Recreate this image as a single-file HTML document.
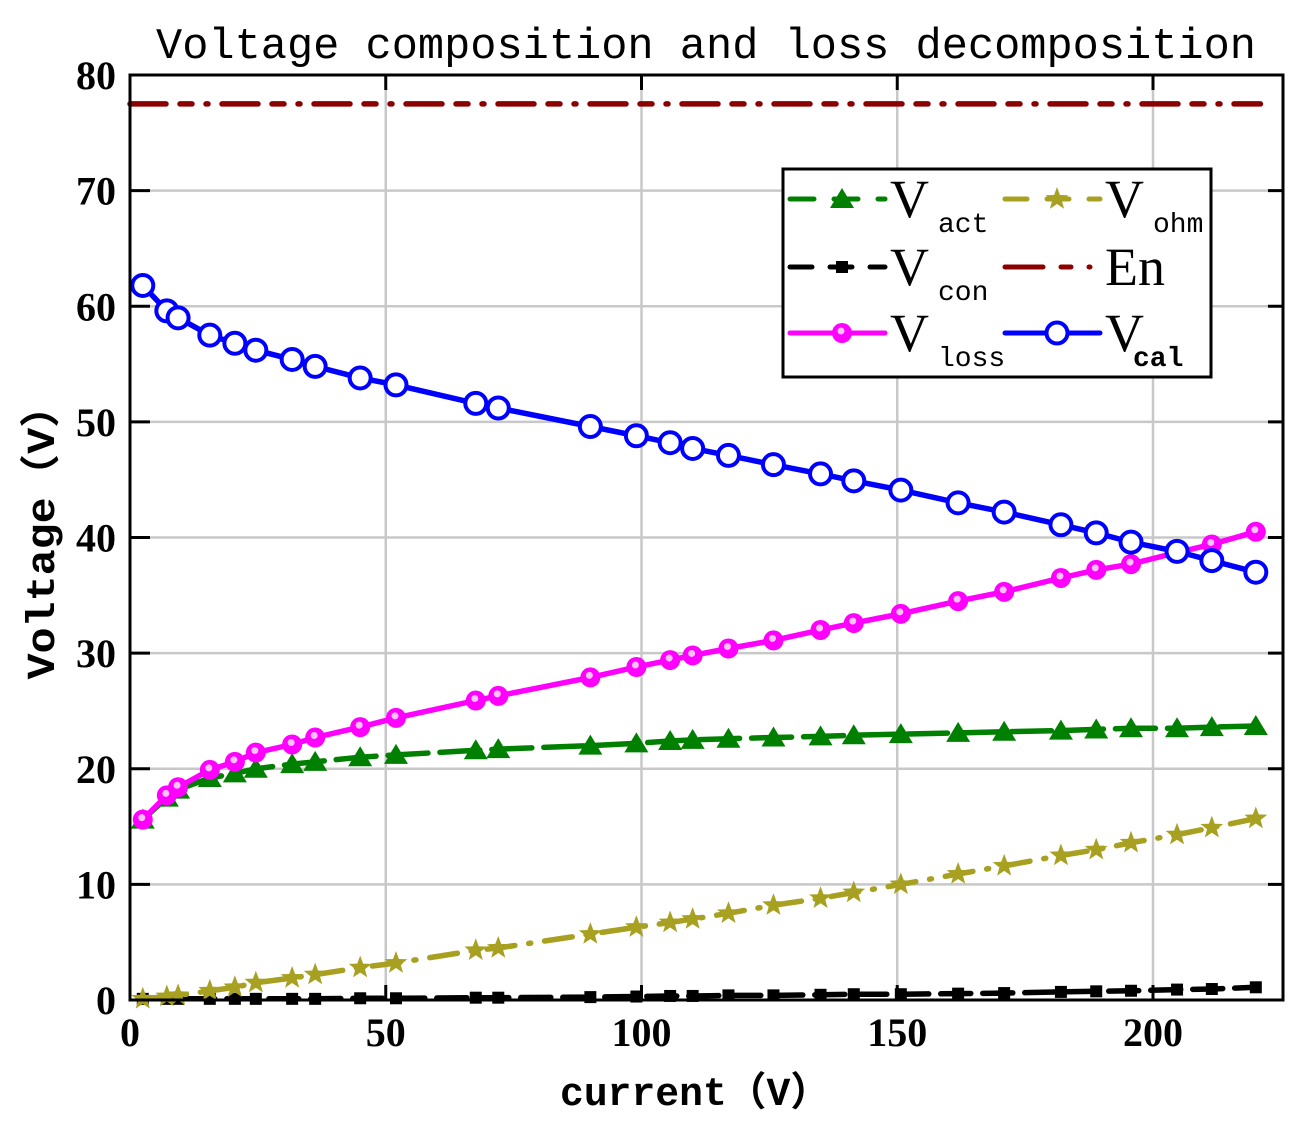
<!DOCTYPE html>
<html><head><meta charset="utf-8"><style>
body{margin:0;background:#fff;}
svg text{font-family:"Liberation Serif","Noto Serif CJK SC",serif;}
.mono{font-family:"Liberation Mono","Noto Sans CJK SC",monospace;}
</style></head><body>
<svg id="chart" width="1306" height="1131" xmlns="http://www.w3.org/2000/svg">
<text class="mono" x="706" y="58" text-anchor="middle" font-size="44" textLength="1100" lengthAdjust="spacingAndGlyphs">Voltage composition and loss decomposition</text>
<g id="grid"></g>
<g id="series"></g>
<rect x="130" y="75" width="1153" height="925" fill="none" stroke="#000" stroke-width="3"/>
<g id="ticks"></g>
<text class="mono" transform="translate(54,532) rotate(-90)" text-anchor="middle" font-size="40" font-weight="bold" textLength="295" lengthAdjust="spacingAndGlyphs">Voltage（V）</text>
<text class="mono" x="695" y="1105" text-anchor="middle" font-size="40" font-weight="bold" textLength="270" lengthAdjust="spacingAndGlyphs">current（V）</text>
<g>
<rect x="783" y="169" width="428" height="208" fill="#fff" stroke="#000" stroke-width="3"/>
<g id="legendItems"></g>
</g>
</svg>
<script>
const currents=[2.5,7.2,9.4,15.6,20.5,24.6,31.7,36.2,45,52,67.6,72,90,99,105.6,110,117,125.8,135,141.5,150.7,161.9,170.9,182,188.9,195.7,204.7,211.5,220.1];
const vcal=[61.8,59.6,59.0,57.5,56.8,56.2,55.4,54.8,53.8,53.2,51.6,51.2,49.6,48.8,48.2,47.7,47.1,46.3,45.5,44.9,44.1,43.0,42.2,41.1,40.4,39.6,38.8,38.0,37.0];
const vloss=[15.6,17.7,18.4,19.9,20.6,21.4,22.1,22.7,23.6,24.4,25.9,26.3,27.9,28.8,29.4,29.8,30.4,31.1,32.0,32.6,33.4,34.5,35.3,36.5,37.2,37.7,38.7,39.4,40.5];
const vact=[15.6,17.5,18.2,19.2,19.6,20.0,20.4,20.6,21.0,21.2,21.6,21.7,22.0,22.2,22.4,22.5,22.6,22.7,22.8,22.9,23.0,23.1,23.2,23.3,23.4,23.5,23.5,23.6,23.7];
const vohm=[0.1,0.3,0.4,0.8,1.1,1.5,1.9,2.2,2.8,3.2,4.3,4.5,5.7,6.3,6.7,7.0,7.5,8.2,8.8,9.3,10.0,10.9,11.6,12.5,13.0,13.6,14.3,14.9,15.7];
const vcon=[0.1,0.1,0.1,0.1,0.1,0.1,0.1,0.1,0.15,0.15,0.2,0.2,0.25,0.3,0.35,0.35,0.4,0.4,0.45,0.5,0.5,0.55,0.6,0.7,0.75,0.8,0.9,0.95,1.1];
const enValue=77.5;
const enRange=[0,221];
const xTicks=[0,50,100,150,200];
const yTicks=[0,10,20,30,40,50,60,70,80];

const NS="http://www.w3.org/2000/svg";
const X=v=>130+v*5.115;
const Y=v=>1000-v*11.5625;
function mk(tag,attrs,parent){const e=document.createElementNS(NS,tag);for(const k in attrs)e.setAttribute(k,attrs[k]);parent.appendChild(e);return e;}
const grid=document.getElementById('grid'),ticks=document.getElementById('ticks'),ser=document.getElementById('series');
xTicks.forEach(t=>{
  const l=mk('line',{x1:X(t),x2:X(t),y1:75,y2:1000,stroke:'#c8c8c8','stroke-width':2.5},grid);
  
  mk('line',{x1:X(t),x2:X(t),y1:1000,y2:985,stroke:'#000','stroke-width':3},ticks);
  mk('line',{x1:X(t),x2:X(t),y1:75,y2:90,stroke:'#000','stroke-width':3},ticks);
  const tx=mk('text',{x:X(t),y:1046,'text-anchor':'middle','font-size':40,'font-weight':'bold'},ticks);
  tx.textContent=t;
});
yTicks.forEach(t=>{
  const l=mk('line',{x1:130,x2:1283,y1:Y(t),y2:Y(t),stroke:'#c8c8c8','stroke-width':2.5},grid);
  
  mk('line',{x1:130,x2:150,y1:Y(t),y2:Y(t),stroke:'#000','stroke-width':3},ticks);
  mk('line',{x1:1283,x2:1268,y1:Y(t),y2:Y(t),stroke:'#000','stroke-width':3},ticks);
  const tx=mk('text',{x:116,y:Y(t)+14,'text-anchor':'end','font-size':40,'font-weight':'bold'},ticks);
  tx.textContent=t;
});
function marker(type,cx,cy,color,g){
  if(type==='tri')mk('polygon',{points:`${cx},${cy-11} ${cx-12},${cy+9} ${cx+12},${cy+9}`,fill:color},g);
  else if(type==='sq')mk('rect',{x:cx-6,y:cy-6,width:12,height:12,fill:color},g);
  else if(type==='star'){let p=[];for(let i=0;i<10;i++){const r=i%2?5:12,a=-Math.PI/2+i*Math.PI/5;p.push((cx+r*Math.cos(a)).toFixed(1)+','+(cy+r*Math.sin(a)).toFixed(1));}mk('polygon',{points:p.join(' '),fill:color},g);}
  else if(type==='ball'){mk('circle',{cx,cy,r:10,fill:color},g);mk('circle',{cx:cx-1,cy:cy-2,r:3.5,fill:'#ffc0ff'},g);}
  else if(type==='ring')mk('circle',{cx,cy,r:10.5,fill:'#fff',stroke:color,'stroke-width':4},g);
}
function series(name,vals,color,dash,type){
  const g=mk('g',{},ser);
  const pts=vals.map((v,i)=>X(currents[i]).toFixed(1)+','+Y(v).toFixed(1)).join(' ');
  mk('polyline',{points:pts,fill:'none',stroke:color,'stroke-width':5.5,'stroke-dasharray':dash,'stroke-linecap':'round'},g);
  vals.forEach((v,i)=>marker(type,X(currents[i]),Y(v),color,g));
}
const en=mk('line',{x1:X(enRange[0]),x2:X(enRange[1]),y1:Y(enValue),y2:Y(enValue),stroke:'#8b0000','stroke-width':5.5,'stroke-dasharray':'36 14 12 14 2 14','stroke-linecap':'round'},ser);

series('v-con-series',vcon,'#000','30 12','sq');
series('v-ohm-series',vohm,'#a8a020','28 14 2 14','star');
series('v-act-series',vact,'#008000','40 12','tri');
series('v-loss-series',vloss,'#ff00ff','','ball');
series('v-cal-series',vcal,'#0000ff','','ring');

const L=document.getElementById('legendItems');
function leg(x,y,color,dash,type,label,sub,bold){
  const g=mk('g',{},L);
  mk('line',{x1:x,x2:x+95,y1:y,y2:y,stroke:color,'stroke-width':5,'stroke-dasharray':dash,'stroke-linecap':'round'},g);
  if(type)marker(type,x+52,y,color,g);
  const t=mk('text',{x:x+100,y:y+18,'font-size':54},g);t.textContent=label;
  if(sub){const s=mk('text',{x:x+148,y:y+33,'font-size':28,'font-weight':bold?'bold':'normal',class:'mono'},g);s.textContent=sub;if(bold)s.setAttribute('x',x+128);}
}
leg(790,199,'#008000','24 20','tri','V','act');
leg(1005,199,'#a8a020','22 20','star','V','ohm');
leg(790,267,'#000','22 18','sq','V','con');
leg(1005,267,'#8b0000','38 18 10 18 1 10','','En','');
leg(790,333,'#ff00ff','','ball','V','loss');
leg(1005,333,'#0000ff','','ring','V','cal',true);
</script>
</body></html>
